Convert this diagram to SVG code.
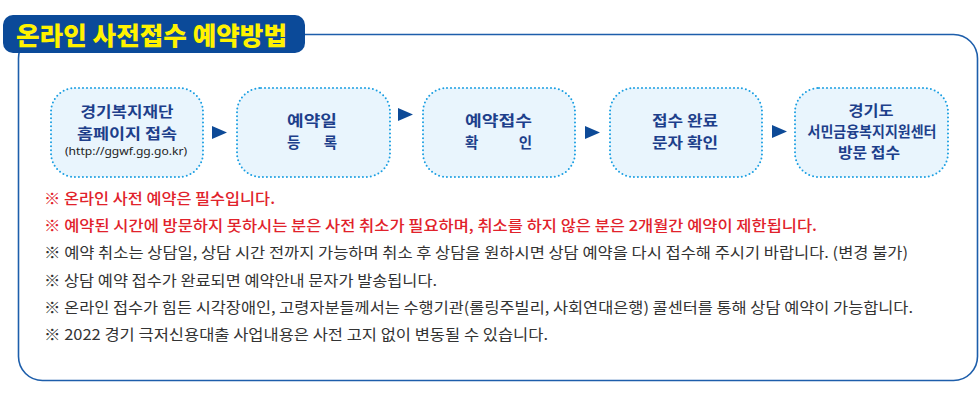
<svg xmlns="http://www.w3.org/2000/svg" width="980" height="403" viewBox="0 0 980 403">
<style>
.node rect{fill:#e9f5fd;stroke:#1b9fe2;stroke-width:2;stroke-dasharray:0 4;stroke-linecap:round}
.nt{font-family:"Noto Sans CJK KR","Noto Sans",sans-serif;font-weight:bold;font-size:14.5px;fill:#1d3f8b;text-anchor:middle}
.url{font-family:"Noto Sans","Noto Sans CJK KR",sans-serif;font-size:11px;fill:#222;text-anchor:middle}
.arr{fill:#0d4a97}
.red{font-family:"Noto Sans CJK KR",sans-serif;font-size:15px;font-weight:500;fill:#e1222b}
.blk{font-family:"Noto Sans CJK KR",sans-serif;font-size:15px;font-weight:normal;fill:#333}
</style>
<rect width="980" height="403" fill="#fff"/>
<rect x="18.5" y="34.5" width="959" height="346" rx="24" fill="none" stroke="#1d5eab" stroke-width="1.6"/>
<g id="title">
<rect x="3" y="15" width="302" height="38" rx="10" fill="#0b4a99"/>
<text x="16" y="45" textLength="271" lengthAdjust="spacingAndGlyphs" font-family="'Noto Sans CJK KR',sans-serif" font-weight="900" font-size="25" fill="#fff200">온라인 사전접수 예약방법</text>
</g>
<g id="node1" class="node">
<rect x="51" y="88" width="152" height="89" rx="24"/>
<text class="nt" x="127" y="117" textLength="93" lengthAdjust="spacingAndGlyphs">경기복지재단</text>
<text class="nt" x="127" y="139" textLength="100" lengthAdjust="spacingAndGlyphs">홈페이지 접속</text>
<text class="url" x="126" y="155" textLength="122" lengthAdjust="spacingAndGlyphs">(http://ggwf.gg.go.kr)</text>
</g>
<g id="node2" class="node">
<rect x="237" y="88" width="153" height="89" rx="24"/>
<text class="nt" x="312" y="126" textLength="50" lengthAdjust="spacingAndGlyphs">예약일</text>
<text class="nt" x="312" y="148" textLength="50" lengthAdjust="spacing">등     록</text>
</g>
<g id="node3" class="node">
<rect x="423" y="88" width="152" height="89" rx="24"/>
<text class="nt" x="498.5" y="126" textLength="67" lengthAdjust="spacingAndGlyphs">예약접수</text>
<text class="nt" x="498.5" y="148" textLength="67" lengthAdjust="spacing">확      인</text>
</g>
<g id="node4" class="node">
<rect x="610" y="88" width="152" height="89" rx="24"/>
<text class="nt" x="685" y="126" textLength="66" lengthAdjust="spacingAndGlyphs">접수 완료</text>
<text class="nt" x="685" y="148" textLength="66" lengthAdjust="spacingAndGlyphs">문자 확인</text>
</g>
<g id="node5" class="node">
<rect x="795" y="88" width="153" height="89" rx="24"/>
<text class="nt" x="871" y="116" textLength="45" lengthAdjust="spacingAndGlyphs">경기도</text>
<text class="nt" x="872" y="137" textLength="129" lengthAdjust="spacingAndGlyphs">서민금융복지지원센터</text>
<text class="nt" x="869" y="158" textLength="62" lengthAdjust="spacingAndGlyphs">방문 접수</text>
</g>
<g id="connectors">
<polygon class="arr" points="212,126 227,132.5 212,139"/>
<polygon class="arr" points="398,108 413,114.5 398,121"/>
<polygon class="arr" points="585,126 600,132.5 585,139"/>
<polygon class="arr" points="772,125 787,131.5 772,138"/>
</g>
<g id="notes">
<text class="red" x="44" y="204" textLength="231" lengthAdjust="spacingAndGlyphs">※ 온라인 사전 예약은 필수입니다.</text>
<text class="red" x="44" y="231" textLength="773" lengthAdjust="spacingAndGlyphs">※ 예약된 시간에 방문하지 못하시는 분은 사전 취소가 필요하며, 취소를 하지 않은 분은 2개월간 예약이 제한됩니다.</text>
<text class="blk" x="44" y="258" textLength="864" lengthAdjust="spacingAndGlyphs">※ 예약 취소는 상담일, 상담 시간 전까지 가능하며 취소 후 상담을 원하시면 상담 예약을 다시 접수해 주시기 바랍니다. (변경 불가)</text>
<text class="blk" x="44" y="286" textLength="393" lengthAdjust="spacingAndGlyphs">※ 상담 예약 접수가 완료되면 예약안내 문자가 발송됩니다.</text>
<text class="blk" x="44" y="313" textLength="869" lengthAdjust="spacingAndGlyphs">※ 온라인 접수가 힘든 시각장애인, 고령자분들께서는 수행기관(롤링주빌리, 사회연대은행) 콜센터를 통해 상담 예약이 가능합니다.</text>
<text class="blk" x="44" y="340" textLength="504" lengthAdjust="spacingAndGlyphs">※ 2022 경기 극저신용대출 사업내용은 사전 고지 없이 변동될 수 있습니다.</text>
</g>
</svg>
